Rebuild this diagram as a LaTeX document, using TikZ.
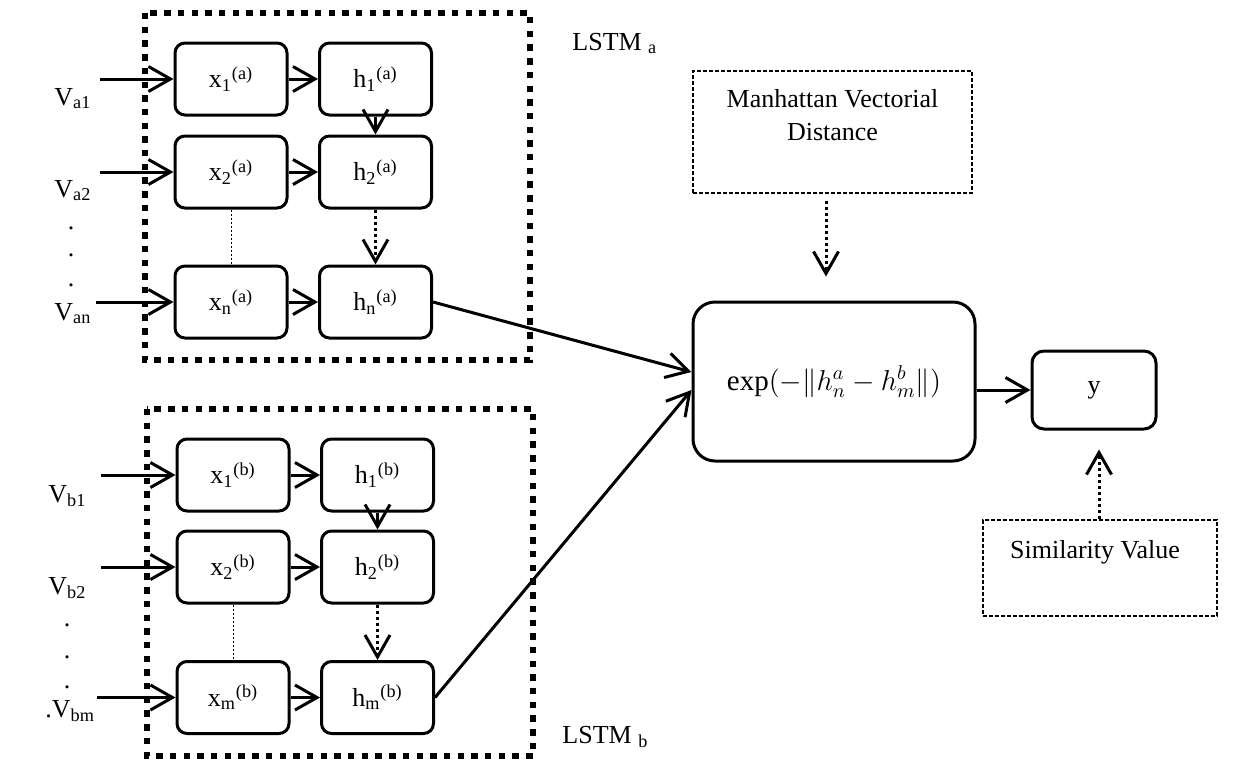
\documentclass[tikz,border=0pt]{standalone}
\usepackage{fontspec}
\setmainfont{Liberation Serif}
\usepackage{amsmath}
\usetikzlibrary{arrows.meta}
\begin{document}
\begin{tikzpicture}[x=0.5pt,y=-0.5pt,
  every node/.style={font=\fontsize{13}{16.5}\selectfont, inner sep=0pt},
  cell/.style={draw, line width=1.5pt, rounded corners=5pt, minimum width=56pt, minimum height=36pt},
  bigcell/.style={draw, line width=1.5pt, rounded corners=11pt, minimum width=141pt, minimum height=79.5pt},
  ycell/.style={draw, line width=1.5pt, rounded corners=6pt, minimum width=62pt, minimum height=39pt},
  notebox/.style={draw, line width=0.6pt, dash pattern=on 2pt off 1pt},
  frame/.style={line width=3.2pt, dash pattern=on 3.2pt off 3.65pt},
  arr/.style={line width=1.5pt, -{Straight Barb[length=11pt,width=12.5pt,line width=1.5pt]}},
  dotarr/.style={line width=1.5pt, dash pattern=on 1.5pt off 1.5pt, -{Straight Barb[length=11pt,width=12.5pt,line width=1.5pt]}},
  thindot/.style={line width=0.5pt, dash pattern=on 1pt off 1pt},
  vlab/.style={anchor=base west}
]
\useasboundingbox (0,0) rectangle (1257,777);

% LSTM frames
\draw[frame] (145,13) rectangle (530,360);
\draw[frame] (147,409) rectangle (533,756);
\node[anchor=base west] (lstma) at (572,50) {LSTM \textsubscript{a}};
\node[anchor=base west] (lstmb) at (562,743) {LSTM \textsubscript{b}};

% LSTM a cells
\node[cell] (x1a) at (231,79) {x\textsubscript{1}\textsuperscript{(a)}};
\node[cell] (h1a) at (375.5,79) {h\textsubscript{1}\textsuperscript{(a)}};
\node[cell] (x2a) at (231,172) {x\textsubscript{2}\textsuperscript{(a)}};
\node[cell] (h2a) at (375.5,172) {h\textsubscript{2}\textsuperscript{(a)}};
\node[cell] (xna) at (231,302) {x\textsubscript{n}\textsuperscript{(a)}};
\node[cell] (hna) at (375.5,302) {h\textsubscript{n}\textsuperscript{(a)}};

% LSTM b cells
\node[cell] (x1b) at (233,475) {x\textsubscript{1}\textsuperscript{(b)}};
\node[cell] (h1b) at (377.5,475) {h\textsubscript{1}\textsuperscript{(b)}};
\node[cell] (x2b) at (233,567) {x\textsubscript{2}\textsuperscript{(b)}};
\node[cell] (h2b) at (377.5,567) {h\textsubscript{2}\textsuperscript{(b)}};
\node[cell] (xmb) at (233,697.5) {x\textsubscript{m}\textsuperscript{(b)}};
\node[cell] (hmb) at (377.5,697.5) {h\textsubscript{m}\textsuperscript{(b)}};

% input labels
\node[vlab] (va1) at (54,105) {V\textsubscript{a1}};
\node[vlab] (va2) at (54,197) {V\textsubscript{a2}};
\node[vlab] (van) at (54,320) {V\textsubscript{an}};
\node (da1) at (71,228) {.};
\node (da2) at (71,255) {.};
\node (da3) at (71,285) {.};
\node[vlab] (vb1) at (48,502) {V\textsubscript{b1}};
\node[vlab] (vb2) at (48,594) {V\textsubscript{b2}};
\node[vlab] (vbm) at (45,717) {.V\textsubscript{bm}};
\node (db1) at (67,625) {.};
\node (db2) at (67,657) {.};
\node (db3) at (67,687) {.};

\coordinate (sa1) at (100,79);
\coordinate (sa2) at (100,172);
\coordinate (san) at (96,302);
\coordinate (sb1) at (101,475);
\coordinate (sb2) at (101,567);
\coordinate (sbm) at (97,697.5);

\draw[arr] (sa1) -- (x1a.west);
\draw[arr] (sa2) -- (x2a.west);
\draw[arr] (san) -- (xna.west);
\draw[arr] (sb1) -- (x1b.west);
\draw[arr] (sb2) -- (x2b.west);
\draw[arr] (sbm) -- (xmb.west);

\draw[arr] (x1a) -- (h1a);
\draw[arr] (x2a) -- (h2a);
\draw[arr] (xna) -- (hna);
\draw[arr] (x1b) -- (h1b);
\draw[arr] (x2b) -- (h2b);
\draw[arr] (xmb) -- (hmb);

\draw[arr] (h1a.south) -- (h2a.north);
\draw[dotarr] (h2a.south) -- (hna.north);
\draw[arr] (h1b.south) -- (h2b.north);
\draw[dotarr] (h2b.south) -- (hmb.north);
\draw[thindot] (x2a.south) -- (xna.north);
\draw[thindot] (x2b.south) -- (xmb.north);

% right part
\node[bigcell, font=\fontsize{14.5}{17}\selectfont] (ex) at (834,381.5) {$\exp(-\lVert h_n^a - h_m^b\rVert)$};
\node[ycell] (yb) at (1094,390) {y};
\node[notebox, minimum width=139.5pt, minimum height=61pt] (md) at (832.5,132) {};
\node[anchor=north, align=center] (mdt) at (832.5,89) {Manhattan Vectorial\\Distance};
\node[notebox, minimum width=117pt, minimum height=48pt] (sv) at (1100,568) {};
\node[anchor=base] (svt) at (1095,558) {Similarity Value};

\draw[arr] (hna.east) -- ([yshift=4.75pt]ex.west);
\draw[arr] (hmb.east) -- ([yshift=-4.25pt]ex.west);
\draw[arr] (ex.east |- yb.west) -- (yb.west);
\draw[dotarr, shorten <=3.5pt, shorten >=12pt] ([xshift=-3.25pt]md.south) -- ([xshift=-4pt]ex.north);
\draw[dotarr, shorten >=9.5pt] ([xshift=-0.5pt]sv.north) -- ([xshift=2.5pt]yb.south);
\end{tikzpicture}
\end{document}
